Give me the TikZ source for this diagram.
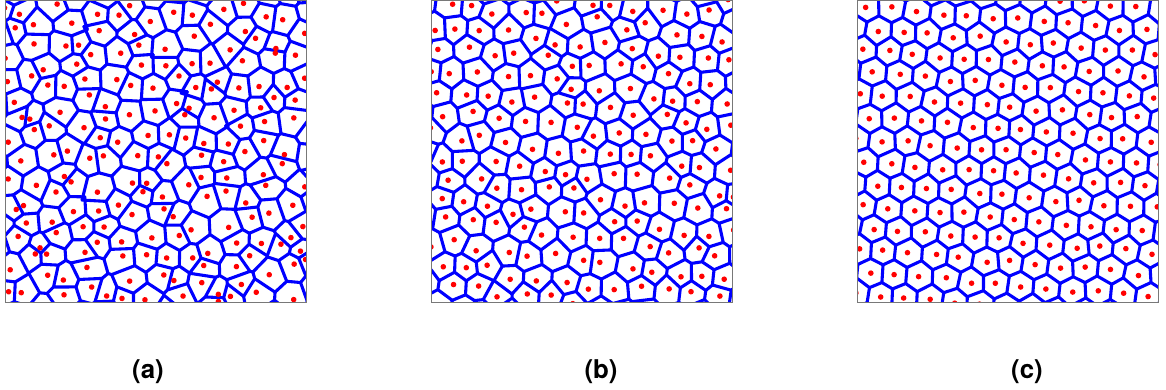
\documentclass[tikz,border=0pt]{standalone}
\usepackage{fontspec}
\setmainfont{TeX Gyre Heros}
\definecolor{vblue}{RGB}{0,0,255}
\definecolor{vred}{RGB}{255,0,0}
\definecolor{vframe}{RGB}{120,120,120}
\tikzset{
  vedge/.style={draw=vblue,line width=1.85pt,line cap=round,line join=round},
  vdot/.style={fill=vred},
  vbox/.style={draw=vframe,line width=0.6pt},
  plabel/.style={font=\bfseries\fontsize{15.5}{18}\selectfont,inner sep=0pt}
}
% triangle centre: #1 type, #2 i, #3 j, then site indices a(#4,#5) b(#6,#7) c(#8,#9)
\newcommand\vtri[9]{%
  \edef\vtAx{\csname vsx@#4@#5\endcsname}%
  \edef\vtAy{\csname vsy@#4@#5\endcsname}%
  \edef\vtBx{\csname vsx@#6@#7\endcsname}%
  \edef\vtBy{\csname vsy@#6@#7\endcsname}%
  \edef\vtCx{\csname vsx@#8@#9\endcsname}%
  \edef\vtCy{\csname vsy@#8@#9\endcsname}%
  \pgfmathsetmacro\vtUx{(\vtBx)-(\vtAx)}%
  \pgfmathsetmacro\vtUy{(\vtBy)-(\vtAy)}%
  \pgfmathsetmacro\vtVx{(\vtCx)-(\vtAx)}%
  \pgfmathsetmacro\vtVy{(\vtCy)-(\vtAy)}%
  \pgfmathsetmacro\vtD{2*((\vtUx)*(\vtVy)-(\vtUy)*(\vtVx))}%
  \pgfmathsetmacro\vtUU{(\vtUx)*(\vtUx)+(\vtUy)*(\vtUy)}%
  \pgfmathsetmacro\vtVV{(\vtVx)*(\vtVx)+(\vtVy)*(\vtVy)}%
  \pgfmathsetmacro\vtOx{((\vtVy)*(\vtUU)-(\vtUy)*(\vtVV))/(\vtD)-((\vtUx)+(\vtVx))/3}%
  \pgfmathsetmacro\vtOy{((\vtUx)*(\vtVV)-(\vtVx)*(\vtUU))/(\vtD)-((\vtUy)+(\vtVy))/3}%
  \pgfmathsetmacro\vtL{veclen(\vtOx,\vtOy)}%
  \pgfmathsetmacro\vtF{\vW*\vM/max(\vtL,\vM)}%
  \pgfmathsetmacro\vtRx{(\vtAx)+((\vtUx)+(\vtVx))/3+\vtF*(\vtOx)}%
  \pgfmathsetmacro\vtRy{(\vtAy)+((\vtUy)+(\vtVy))/3+\vtF*(\vtOy)}%
  \expandafter\xdef\csname vcx#1@#2@#3\endcsname{\vtRx}%
  \expandafter\xdef\csname vcy#1@#2@#3\endcsname{\vtRy}%
}
% #1 x0, #2 y0, #3 size, #4 spacing d, #5 jitter, #6 rotation, #7 seed, #8 circumcentre weight
\newcommand\VorPanel[8]{%
  \pgfmathsetmacro\vR{#3*0.71/#4+1.2}%
  \pgfmathtruncatemacro\vJ{ceil(\vR/0.8660254)+1}%
  \pgfmathtruncatemacro\vJS{\vJ+2}%
  \pgfmathtruncatemacro\vIS{ceil(\vR+\vJS/2)+3}%
  \pgfmathtruncatemacro\vJm{-\vJ-1}%
  \pgfmathsetmacro\vdr{2.8/#4}%
  \xdef\vW{#8}\xdef\vM{0.45}%
  \pgfmathsetseed{#7}%
  \foreach \j in {-\vJS,...,\vJS}{%
    \foreach \i in {-\vIS,...,\vIS}{%
      \pgfmathsetmacro\tmpx{\i+\j/2+#5*rand}%
      \pgfmathsetmacro\tmpy{0.8660254*\j+#5*rand}%
      \expandafter\xdef\csname vsx@\i @\j\endcsname{\tmpx}%
      \expandafter\xdef\csname vsy@\i @\j\endcsname{\tmpy}%
    }}%
  \foreach \j in {\vJm,...,\vJ}{%
    \pgfmathtruncatemacro\vimin{floor(-\vR-\j/2)-2}%
    \pgfmathtruncatemacro\vimax{ceil(\vR-\j/2)+1}%
    \foreach \i in {\vimin,...,\vimax}{%
      \pgfmathtruncatemacro\ip{\i+1}%
      \pgfmathtruncatemacro\jp{\j+1}%
      \vtri{1}{\i}{\j}{\i}{\j}{\ip}{\j}{\i}{\jp}%
      \vtri{2}{\i}{\j}{\ip}{\j}{\ip}{\jp}{\i}{\jp}%
    }}%
  \begin{scope}
    \clip (#1,#2) rectangle ++(#3,#3);
    \begin{scope}[shift={(#1+#3/2,#2+#3/2)},rotate=#6,scale=#4]
      \foreach \j in {-\vJ,...,\vJ}{%
        \pgfmathtruncatemacro\vimin{floor(-\vR-\j/2)-1}%
        \pgfmathtruncatemacro\vimax{ceil(\vR-\j/2)}%
        \foreach \i in {\vimin,...,\vimax}{%
          \pgfmathtruncatemacro\im{\i-1}%
          \pgfmathtruncatemacro\jm{\j-1}%
          \edef\pax{\csname vcx1@\i @\j\endcsname}%
          \edef\pay{\csname vcy1@\i @\j\endcsname}%
          \edef\pbx{\csname vcx2@\i @\jm\endcsname}%
          \edef\pby{\csname vcy2@\i @\jm\endcsname}%
          \edef\pcx{\csname vcx2@\im @\j\endcsname}%
          \edef\pcy{\csname vcy2@\im @\j\endcsname}%
          \edef\pdx{\csname vcx2@\i @\j\endcsname}%
          \edef\pdy{\csname vcy2@\i @\j\endcsname}%
          \path[vedge] (\pax,\pay) -- (\pbx,\pby) (\pax,\pay) -- (\pcx,\pcy) (\pax,\pay) -- (\pdx,\pdy);
        }}%
      \foreach \j in {-\vJ,...,\vJ}{%
        \pgfmathtruncatemacro\vimin{floor(-\vR-\j/2)-1}%
        \pgfmathtruncatemacro\vimax{ceil(\vR-\j/2)}%
        \foreach \i in {\vimin,...,\vimax}{%
          \edef\psx{\csname vsx@\i @\j\endcsname}%
          \edef\psy{\csname vsy@\i @\j\endcsname}%
          \path[vdot] (\psx,\psy) circle[radius=\vdr];
        }}%
    \end{scope}
  \end{scope}
  \path[vbox] (#1,#2) rectangle ++(#3,#3);
}
\begin{document}
\begin{tikzpicture}[x=0.6pt,y=-0.6pt]
  \useasboundingbox (0,0) rectangle (1166,389);
  \VorPanel{5}{1}{301}{24}{0.38}{12}{4711}{0.8}
  \VorPanel{431}{1}{301}{25}{0.25}{-7}{2024}{0.9}
  \VorPanel{857}{1}{301}{25.5}{0.09}{-5}{777}{1}
  \node[plabel] (la) at (148,372) {(a)};
  \node[plabel] (lb) at (601,372) {(b)};
  \node[plabel] (lc) at (1027,372) {(c)};
\end{tikzpicture}
\end{document}
